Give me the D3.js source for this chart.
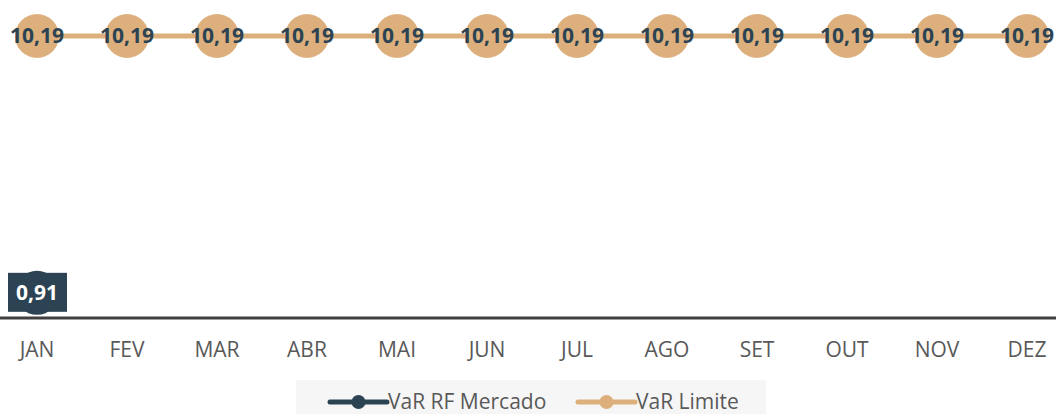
<!DOCTYPE html>
<html>
<head>
<meta charset="utf-8">
<script src="https://cdn.jsdelivr.net/npm/d3@7"></script>
<style>
  body { margin: 0; background: #fff; }
  svg { display: block; }
</style>
</head>
<body>
<script>
const width = 1056;
const height = 414;

const months = ["JAN", "FEV", "MAR", "ABR", "MAI", "JUN", "JUL", "AGO", "SET", "OUT", "NOV", "DEZ"];
const varMercado = [0.91];
const varLimite = [10.19, 10.19, 10.19, 10.19, 10.19, 10.19, 10.19, 10.19, 10.19, 10.19, 10.19, 10.19];
const seriesNames = ["VaR RF Mercado", "VaR Limite"];

const darkColor = "#2b4352";
const orange = "#dcaf7c";
const fontFamily = "'Open Sans', 'Noto Sans', sans-serif";
const fmt = v => d3.format(".2f")(v).replace(".", ",");

const svg = d3.select("body").append("svg")
  .attr("width", width)
  .attr("height", height)
  .attr("viewBox", [0, 0, width, height]);

const x = d3.scaleBand(months, [-8, 1072]);
const y = d3.scaleLinear([0, 10.19], [318, 36]);
const cx = m => x(m) + x.bandwidth() / 2;

// axis
const xAxis = d3.axisBottom(x).tickSize(0).tickPadding(0);
const gx = svg.append("g")
  .attr("transform", `translate(0,${y(0)})`)
  .call(xAxis);
gx.select(".domain").attr("stroke", "#404040").attr("stroke-width", 3).attr("d", `M0,0H${width}`);
gx.selectAll(".tick text")
  .attr("dy", 0)
  .attr("y", 39)
  .attr("fill", "#595959")
  .style("font-family", fontFamily)
  .style("font-size", "21px");

// limite line
const line = d3.line()
  .x((d, i) => cx(months[i]))
  .y(d => y(d));

svg.append("path")
  .attr("fill", "none")
  .attr("stroke", orange)
  .attr("stroke-width", 5)
  .attr("d", line(varLimite));

svg.append("g")
  .selectAll("circle")
  .data(varLimite)
  .join("circle")
  .attr("cx", (d, i) => cx(months[i]))
  .attr("cy", d => y(d))
  .attr("r", 22)
  .attr("fill", orange);

svg.append("g")
  .selectAll("text")
  .data(varLimite)
  .join("text")
  .attr("x", (d, i) => cx(months[i]))
  .attr("y", d => y(d))
  .attr("dy", "0.35em")
  .attr("text-anchor", "middle")
  .attr("fill", darkColor)
  .style("font-family", fontFamily)
  .style("font-weight", "bold")
  .style("font-size", "21px")
  .text(d => fmt(d));

// mercado
svg.append("path")
  .attr("fill", "none")
  .attr("stroke", darkColor)
  .attr("stroke-width", 5)
  .attr("d", line(varMercado));

svg.append("g")
  .selectAll("circle")
  .data(varMercado)
  .join("circle")
  .attr("cx", (d, i) => cx(months[i]))
  .attr("cy", d => y(d))
  .attr("r", 22)
  .attr("fill", darkColor);

const mLabels = svg.append("g")
  .selectAll("g")
  .data(varMercado)
  .join("g")
  .attr("transform", (d, i) => `translate(${cx(months[i])},${y(d)})`);

mLabels.append("rect")
  .attr("x", -29)
  .attr("y", -20)
  .attr("width", 59)
  .attr("height", 39)
  .attr("fill", darkColor);

mLabels.append("text")
  .attr("dy", "0.35em")
  .attr("text-anchor", "middle")
  .attr("fill", "#fff")
  .style("font-family", fontFamily)
  .style("font-weight", "bold")
  .style("font-size", "21px")
  .text(d => fmt(d));

// legend
const legend = svg.append("g");
legend.append("rect")
  .attr("x", 296)
  .attr("y", 380)
  .attr("width", 470)
  .attr("height", 40)
  .attr("fill", "#f6f6f6");

const legendX = [330, 578];
const legendColors = [darkColor, orange];
const items = legend.selectAll("g")
  .data(seriesNames)
  .join("g")
  .attr("transform", (d, i) => `translate(${legendX[i]},402)`);

items.append("line")
  .attr("x1", 0).attr("x2", 57)
  .attr("stroke", (d, i) => legendColors[i])
  .attr("stroke-width", 5)
  .attr("stroke-linecap", "round");

items.append("circle")
  .attr("cx", 28.5)
  .attr("r", 7)
  .attr("fill", (d, i) => legendColors[i]);

items.append("text")
  .attr("x", 58)
  .attr("dy", "0.35em")
  .attr("fill", "#595959")
  .style("font-family", fontFamily)
  .style("font-size", "21px")
  .text(d => d);
</script>
</body>
</html>
